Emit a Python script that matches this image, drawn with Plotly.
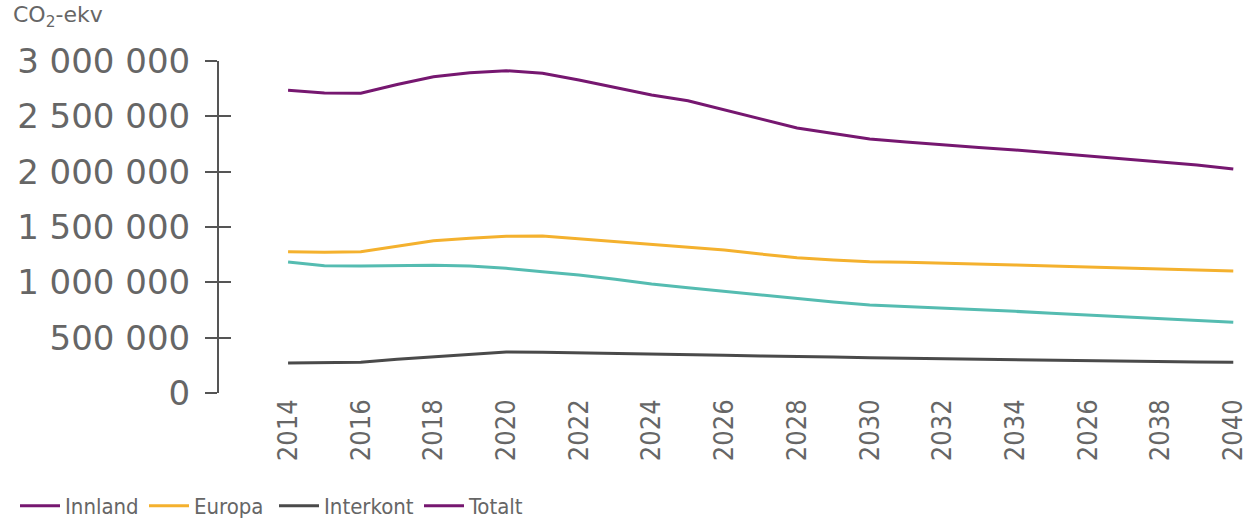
import plotly.graph_objects as go

years = list(range(2014, 2041))

innland = [1184000, 1150000, 1148000, 1150000, 1154000, 1148000, 1127000, 1096000, 1066000,
           1027000, 985000, 951000, 919000, 886000, 849000, 822000, 795000, 782000, 768000,
           753000, 738000, 721000, 705000, 690000, 675000, 657000, 639000]
europa = [1277000, 1271000, 1277000, 1328000, 1376000, 1398000, 1416000, 1419000, 1394000,
          1371000, 1346000, 1322000, 1292000, 1256000, 1223000, 1202000, 1187000, 1181000, 1175000,
          1166000, 1157000, 1148000, 1141000, 1130000, 1120000, 1111000, 1102000]
interkont = [271000, 274000, 277000, 305000, 328000, 350000, 370000, 368000, 364000,
             359000, 352000, 346000, 341000, 334000, 332000, 325000, 319000, 314000, 310000,
             305000, 301000, 296000, 292000, 287000, 283000, 280000, 277000]
totalt = [2735000, 2711000, 2708000, 2788000, 2858000, 2894000, 2912000, 2889000, 2828000,
          2760000, 2693000, 2641000, 2557000, 2476000, 2394000, 2345000, 2295000, 2268000, 2241000,
          2218000, 2196000, 2169000, 2141000, 2114000, 2087000, 2060000, 2024000]

x_tickvals = list(range(2014, 2041, 2))
x_ticktext = ["2014", "2016", "2018", "2020", "2022", "2024", "2026", "2028", "2030",
              "2032", "2034", "2026", "2038", "2040"]
y_tickvals = [0, 500000, 1000000, 1500000, 2000000, 2500000, 3000000]
y_ticktext = ["0", "500 000", "1 000 000", "1 500 000", "2 000 000", "2 500 000", "3 000 000"]

legend_names = ["Innland", "Europa", "Interkont", "Totalt"]

PURPLE = "#761770"
ORANGE = "#F4B12E"
TEAL = "#55BCB1"
GRAY = "#4A4A4A"
TXT = "#666666"
legend_colors = [PURPLE, ORANGE, GRAY, PURPLE]
legend_left_px = [15, 144, 274, 419]

W, H = 1247, 519
L, R, T, B = 219, 5, 61, 126
PW = W - L - R
PH = H - T - B

fig = go.Figure()
fig.add_trace(go.Scatter(x=years, y=innland, mode="lines", line=dict(color=TEAL, width=3),
                         showlegend=False, name="Innland"))
fig.add_trace(go.Scatter(x=years, y=europa, mode="lines", line=dict(color=ORANGE, width=3),
                         showlegend=False, name="Europa"))
fig.add_trace(go.Scatter(x=years, y=interkont, mode="lines", line=dict(color=GRAY, width=3),
                         showlegend=False, name="Interkont"))
fig.add_trace(go.Scatter(x=years, y=totalt, mode="lines", line=dict(color=PURPLE, width=3),
                         showlegend=False, name="Totalt"))

# legend entries (as in the original legend), each in its own legend box for exact placement
legend_layouts = {}
for i, (nm, col, lx) in enumerate(zip(legend_names, legend_colors, legend_left_px)):
    key = "legend" if i == 0 else f"legend{i + 1}"
    fig.add_trace(go.Scatter(x=[None], y=[None], mode="lines", line=dict(color=col, width=3),
                             name=nm, showlegend=True, legend=key))
    legend_layouts[key] = dict(
        orientation="h", xref="container", yref="container",
        x=lx / W, y=1 - 506 / H, xanchor="left", yanchor="middle",
        bgcolor="rgba(0,0,0,0)",
        font=dict(family="Liberation Sans Narrow, DejaVu Sans Condensed, sans-serif",
                  size=22, color=TXT),
        itemwidth=40)

# invisible trace to drive the inside-tick overlay axis
fig.add_trace(go.Scatter(x=[None], y=[None], yaxis="y2", showlegend=False, hoverinfo="skip"))

fig.update_layout(
    width=W, height=H,
    margin=dict(l=L, r=R, t=T, b=B, autoexpand=False),
    paper_bgcolor="white", plot_bgcolor="white",
    xaxis=dict(range=[2012.1, 2040.24], tickvals=x_tickvals, ticktext=x_ticktext,
               tickangle=-90, showgrid=False, zeroline=False, showline=False, ticks="",
               ticklabeloverflow="allow",
               tickfont=dict(family="Liberation Sans Narrow, DejaVu Sans Condensed, sans-serif",
                             size=27, color=TXT)),
    yaxis=dict(range=[0, 3000000], tickvals=y_tickvals, ticktext=y_ticktext,
               showgrid=False, zeroline=False, showline=True, linecolor="#555555", linewidth=2,
               ticks="outside", ticklen=12, tickwidth=1.5, tickcolor="#555555",
               ticklabelstandoff=8,
               tickfont=dict(family="DejaVu Sans, sans-serif", size=34, color=TXT)),
    yaxis2=dict(range=[0, 3000000], overlaying="y", side="left", anchor="x",
                tickvals=y_tickvals, showticklabels=False, showgrid=False, zeroline=False,
                showline=False, ticks="inside", ticklen=12, tickwidth=1.5, tickcolor="#555555"),
    annotations=[dict(text="CO<sub>2</sub>-ekv", xref="paper", yref="paper",
                      x=(11 - L) / PW, y=1 + (T - 17) / PH,
                      xanchor="left", yanchor="middle", showarrow=False,
                      font=dict(family="DejaVu Sans, sans-serif", size=22, color=TXT))],
    **legend_layouts,
)

fig.write_html("out.html", config={"displayModeBar": False},
               post_script="document.body.style.margin='0';")
